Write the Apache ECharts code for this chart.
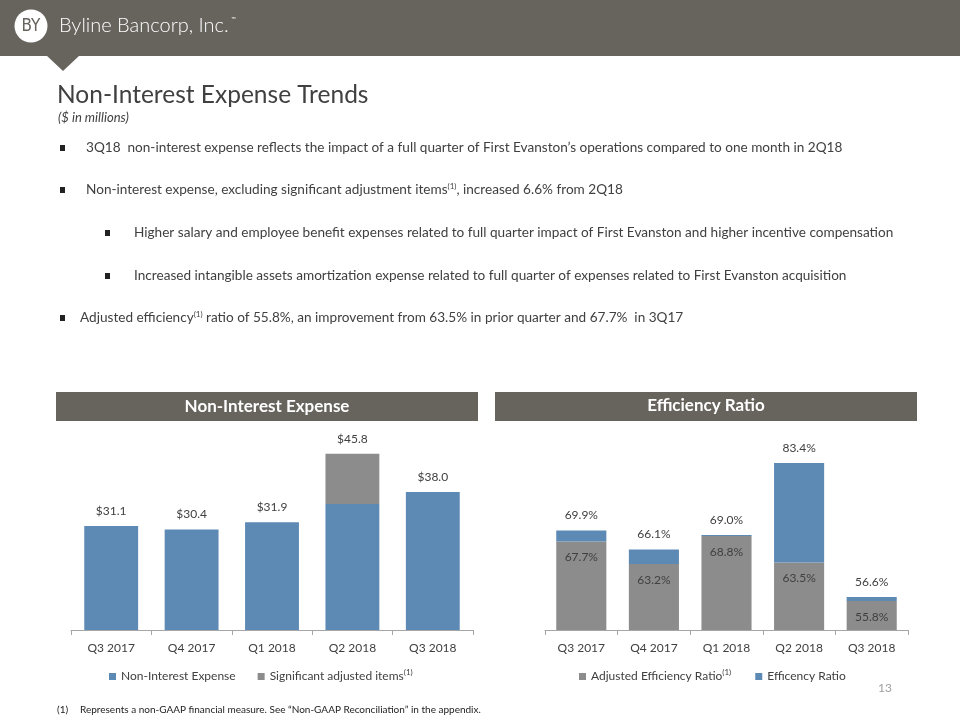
<!DOCTYPE html>
<html><head><meta charset="utf-8">
<script src="https://cdn.jsdelivr.net/npm/echarts@6/dist/echarts.min.js"></script>
<style>html,body{margin:0;padding:0;background:#fff}#c{width:960px;height:720px}</style>
</head><body><div id="c"></div>
<script>
// ---- data ----
const quarters = ['Q3 2017', 'Q4 2017', 'Q1 2018', 'Q2 2018', 'Q3 2018'];
const nonInterestExpense = [31.1, 30.4, 31.9, 35.6, 38.0];
const significantItems = [0, 0, 0, 10.2, 0];
const adjustedEfficiency = [67.7, 63.2, 68.8, 63.5, 55.8];
const efficiencyRatio = [69.9, 66.1, 69.0, 83.4, 56.6];

const expenseTotals = nonInterestExpense.map((v, i) => +(v + significantItems[i]).toFixed(1));
const efficiencyGap = efficiencyRatio.map((v, i) => +(v - adjustedEfficiency[i]).toFixed(1));

const BLUE = '#5D89B5';
const GRAY = '#8C8C8C';
const BAND = '#67635D';
const TXT = '#404040';
const FONT = 'Lato';

const chart = echarts.init(document.getElementById('c'), null, { renderer: 'canvas' });

const supRich = {
  t: { fontFamily: FONT, fontSize: 13.6, color: TXT },
  s: { fontFamily: FONT, fontSize: 8, color: TXT, padding: [0, 0, 7, 0] }
};

function bullet(x, y) {
  return { type: 'rect', shape: { x: x, y: y - 3, width: 5, height: 6 }, style: { fill: '#222' } };
}
function line(x, y, text) {
  return { type: 'text', x: x, y: y, style: { text: text, rich: supRich, fontFamily: FONT, fontSize: 13.6, fill: TXT, verticalAlign: 'middle' } };
}

const graphics = [
  { type: 'rect', shape: { x: 0, y: 0, width: 960, height: 56 }, style: { fill: BAND } },
  { type: 'polygon', shape: { points: [[46, 55], [80, 55], [63, 71]] }, style: { fill: BAND } },
  { type: 'circle', shape: { cx: 31, cy: 26, r: 16.5 }, style: { fill: '#fff' } },
  { type: 'text', x: 31, y: 27, style: { text: 'BY', fontFamily: 'DejaVu Sans Condensed', fontSize: 17, fill: BAND, align: 'center', verticalAlign: 'middle' } },
  { type: 'text', x: 59, y: 26, style: { text: 'Byline Bancorp, Inc.', fontFamily: FONT, fontWeight: 300, fontSize: 20, fill: '#fff', verticalAlign: 'middle' } },
  { type: 'text', x: 231, y: 19, style: { text: '\u2122', fontFamily: FONT, fontSize: 6, fill: '#fff', verticalAlign: 'middle' } },

  { type: 'text', x: 57, y: 95, style: { text: 'Non-Interest Expense Trends', fontFamily: FONT, fontSize: 24.5, fill: TXT, verticalAlign: 'middle' } },
  { type: 'text', x: 58, y: 118, style: { text: '($ in millions)', fontFamily: FONT, fontStyle: 'italic', fontSize: 13, fill: TXT, verticalAlign: 'middle' } },

  bullet(60, 148), line(86, 148, '{t|3Q18  non-interest expense reflects the impact of a full quarter of First Evanston\u2019s operations compared to one month in 2Q18}'),
  bullet(60, 190), line(86, 190, '{t|Non-interest expense, excluding significant adjustment items}{s|(1)}{t|, increased 6.6% from 2Q18}'),
  bullet(105, 233), line(134, 233, '{t|Higher salary and employee benefit expenses related to full quarter impact of First Evanston and higher incentive compensation}'),
  bullet(105, 276), line(134, 276, '{t|Increased intangible assets amortization expense related to full quarter of expenses related to First Evanston acquisition}'),
  bullet(60, 318), line(80, 318, '{t|Adjusted efficiency}{s|(1)}{t| ratio of 55.8%, an improvement from 63.5% in prior quarter and 67.7%  in 3Q17}'),

  { type: 'rect', shape: { x: 56, y: 392, width: 422, height: 29 }, style: { fill: BAND } },
  { type: 'text', x: 267, y: 407, style: { text: 'Non-Interest Expense', fontFamily: FONT, fontWeight: 'bold', fontSize: 17, fill: '#fff', align: 'center', verticalAlign: 'middle' } },
  { type: 'rect', shape: { x: 495, y: 392, width: 422, height: 29 }, style: { fill: BAND } },
  { type: 'text', x: 706, y: 406, style: { text: 'Efficiency Ratio', fontFamily: FONT, fontWeight: 'bold', fontSize: 17, fill: '#fff', align: 'center', verticalAlign: 'middle' } },

  { type: 'text', x: 892, y: 688, style: { text: '13', fontFamily: FONT, fontSize: 12, fill: '#A0A0A0', align: 'right', verticalAlign: 'middle' } },
  { type: 'text', x: 57, y: 710, style: { text: '(1)', fontFamily: 'Liberation Sans Narrow, ' + FONT, fontSize: 10, fill: '#222', verticalAlign: 'middle' } },
  { type: 'text', x: 80, y: 710, style: { text: 'Represents a non-GAAP financial measure. See \u201cNon-GAAP Reconciliation\u201d in the appendix.', fontFamily: 'Liberation Sans Narrow, ' + FONT, fontSize: 10, fill: '#222', verticalAlign: 'middle' } }
];

const axisCommon = {
  type: 'category',
  data: quarters,
  axisLine: { lineStyle: { color: '#A6A6A6', width: 1 } },
  axisTick: { show: true, length: 5, lineStyle: { color: '#A6A6A6' } },
  axisLabel: { fontFamily: FONT, fontSize: 12, color: TXT, margin: 12 }
};

const labelStyle = { fontFamily: FONT, fontSize: 12, color: TXT };

const legendRich = {
  t: { fontFamily: FONT, fontSize: 12, color: TXT },
  s: { fontFamily: FONT, fontSize: 8, color: TXT, padding: [0, 0, 9, 0] }
};

chart.setOption({
  animation: false,
  graphic: graphics,
  grid: [
    { left: 71, right: 487, top: 433, bottom: 90 },
    { left: 545, right: 52, top: 430, bottom: 90 }
  ],
  xAxis: [
    Object.assign({ gridIndex: 0 }, axisCommon),
    Object.assign({ gridIndex: 1 }, axisCommon)
  ],
  yAxis: [
    { gridIndex: 0, type: 'value', min: 10, max: 50, show: false, splitLine: { show: false } },
    { gridIndex: 1, type: 'value', min: 50, max: 90, show: false, splitLine: { show: false } }
  ],
  legend: [
    {
      left: 104, top: 663, itemWidth: 7, itemHeight: 7, itemGap: 22, icon: 'rect',
      data: ['Non-Interest Expense', 'Significant adjusted items'],
      textStyle: { rich: legendRich },
      formatter: n => n === 'Significant adjusted items' ? '{t|' + n + '}{s|(1)}' : '{t|' + n + '}'
    },
    {
      left: 574, top: 663, itemWidth: 7, itemHeight: 7, itemGap: 24, icon: 'rect',
      data: ['Adjusted Efficiency Ratio', 'Efficency Ratio'],
      textStyle: { rich: legendRich },
      formatter: n => n === 'Adjusted Efficiency Ratio' ? '{t|' + n + '}{s|(1)}' : '{t|' + n + '}'
    }
  ],
  series: [
    {
      name: 'Non-Interest Expense', type: 'bar', xAxisIndex: 0, yAxisIndex: 0, stack: 'exp',
      data: nonInterestExpense, barCategoryGap: '33%', itemStyle: { color: BLUE }
    },
    {
      name: 'Significant adjusted items', type: 'bar', xAxisIndex: 0, yAxisIndex: 0, stack: 'exp',
      data: significantItems, itemStyle: { color: GRAY },
      label: {
        show: true, position: 'top', distance: 9, ...labelStyle,
        formatter: p => '$' + expenseTotals[p.dataIndex].toFixed(1)
      }
    },
    {
      name: 'Adjusted Efficiency Ratio', type: 'bar', xAxisIndex: 1, yAxisIndex: 1, stack: 'eff',
      data: adjustedEfficiency, barCategoryGap: '31%', itemStyle: { color: GRAY },
      label: { show: true, position: 'insideTop', distance: 10, ...labelStyle, formatter: p => p.value.toFixed(1) + '%' }
    },
    {
      name: 'Efficency Ratio', type: 'bar', xAxisIndex: 1, yAxisIndex: 1, stack: 'eff',
      data: efficiencyGap, itemStyle: { color: BLUE },
      label: {
        show: true, position: 'top', distance: 9, ...labelStyle,
        formatter: p => efficiencyRatio[p.dataIndex].toFixed(1) + '%'
      }
    }
  ]
});
</script>
</body></html>
